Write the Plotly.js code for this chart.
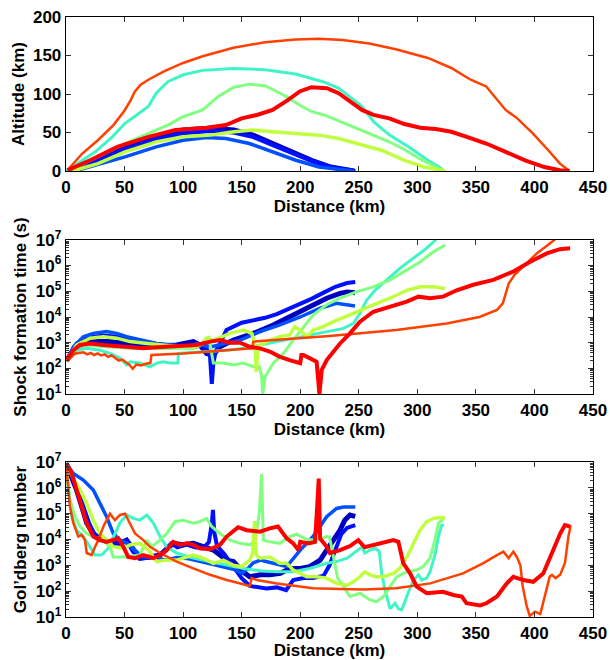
<!DOCTYPE html>
<html>
<head>
<meta charset="utf-8">
<script src="https://cdn.plot.ly/plotly-3.0.1.min.js"></script>
<style>html,body{margin:0;padding:0;background:#fff;}#chart{width:610px;height:660px;}</style>
</head>
<body>
<div id="chart"></div>
<script>
// ---------- tick labels ----------
const distanceTicks = [0, 50, 100, 150, 200, 250, 300, 350, 400, 450];
const altitudeTicks = [0, 50, 100, 150, 200];
const logTicks = [1e1, 1e2, 1e3, 1e4, 1e5, 1e6, 1e7];
const logTickText = ['10<sup>1</sup>', '10<sup>2</sup>', '10<sup>3</sup>', '10<sup>4</sup>', '10<sup>5</sup>', '10<sup>6</sup>', '10<sup>7</sup>'];
const logMinorTicks = [2e1,3e1,4e1,5e1,6e1,7e1,8e1,9e1,2e2,3e2,4e2,5e2,6e2,7e2,8e2,9e2,2e3,3e3,4e3,5e3,6e3,7e3,8e3,9e3,2e4,3e4,4e4,5e4,6e4,7e4,8e4,9e4,2e5,3e5,4e5,5e5,6e5,7e5,8e5,9e5,2e6,3e6,4e6,5e6,6e6,7e6,8e6,9e6];

// ---------- Altitude (km) vs distance (km) ----------
const alt_navy_x = [1.3, 23.9, 50.4, 77, 100, 123.4, 143.3, 159.8, 176.4, 193, 209.6, 226, 246];
const alt_navy_y = [0, 14, 31.4, 44.4, 53.2, 55.5, 53.2, 46.6, 35.7, 24.8, 14, 5.2, 0];
const alt_blue_x = [1.5, 24, 50, 77, 100, 123, 143, 160, 176, 193, 210, 226, 247];
const alt_blue_y = [0, 12, 28, 41, 49, 52, 50, 44, 34, 23, 13, 5, 0];
const alt_lblue_x = [7.3, 30.5, 50.4, 77, 100, 120, 136.6, 156.5, 176.4, 196.3, 216, 246];
const alt_lblue_y = [0, 9.6, 18.3, 31.4, 40, 43.6, 42.3, 35.7, 24.8, 14, 5.2, 0];
const alt_turq_x = [0, 10, 25, 40, 50.4, 60.4, 70.3, 77, 86.9, 100, 116.7, 143, 170, 196, 219.5, 232.8, 242.7, 252.7, 262.6, 276, 292.5, 309, 318, 323];
const alt_turq_y = [0, 10, 25, 45, 61.9, 72.8, 83.7, 101, 116, 125, 130.7, 133, 131.6, 126, 116, 107.6, 96, 84, 64, 47, 31.4, 14, 6, 0];
const alt_lgreen_x = [2.3, 27.2, 50.4, 70.3, 86.9, 100, 116.7, 130, 143.3, 156.5, 169.8, 183, 190, 200, 210, 222, 236, 249, 262, 276, 289, 302, 316, 323];
const alt_lgreen_y = [0, 18.3, 35.7, 48.8, 59.7, 70.6, 79.3, 96.7, 108.9, 112.8, 110.7, 101, 95, 85, 77, 72, 63, 55, 47, 38, 28, 16, 5, 0];
const alt_ygreen_x = [5.6, 27.2, 50.4, 77, 100, 123.4, 143.3, 159.8, 176.4, 196.3, 216, 232.8, 249.4, 269.3, 289, 305.7, 324];
const alt_ygreen_y = [0, 9.6, 24.8, 37.9, 44.4, 46.6, 51, 53.2, 51, 48.8, 46.6, 42.3, 35.7, 27, 13.9, 5.2, 0];
const alt_orange_x = [2.3, 13.9, 27.2, 40.5, 49.7, 55.4, 58.7, 63.7, 70.3, 83.6, 100, 116.7, 143, 170, 196, 216, 236, 259, 282.5, 309, 329, 345.5, 358.8, 368.7, 375.4, 385.3, 398.6, 411.8, 421.8, 430];
const alt_orange_y = [3, 22.7, 40, 59.7, 78, 92.4, 103, 112, 118.5, 129.4, 140.3, 149, 160, 167.3, 170.8, 171.7, 170, 165.6, 157.7, 146.8, 133.8, 118.5, 109.8, 92.4, 79.3, 68.4, 48.8, 27, 9.6, 0];
const alt_red_x = [1.3, 20.6, 43.8, 70.3, 93.5, 120, 136.6, 150, 163, 176.4, 189.7, 199.6, 209.6, 222.8, 232.8, 242.7, 252.7, 262.6, 276, 289, 302.4, 315.7, 329, 342.2, 358.8, 375.4, 392, 408.5, 421.8, 430];
const alt_red_y = [0.9, 14, 31.4, 44.4, 53.2, 56.2, 59.7, 68.4, 72.8, 79.3, 92.4, 103.3, 108.9, 107.6, 101, 90.2, 79.3, 72.8, 68.4, 61, 56.2, 54.5, 51, 44.4, 35.7, 24.8, 13.9, 5.2, 0.9, 0];

// ---------- Shock formation time (s) vs distance (km) ----------
const shk_navy_x = [0.6, 9, 23.3, 37.6, 51.8, 66, 80.3, 94.5, 108.7, 114.4, 120, 125.8, 131.5, 143, 160, 177, 194, 211, 222.6, 234, 240, 246.8];
const shk_navy_y = [2.1e2, 6.9e2, 1.1e3, 1.1e3, 9.3e2, 8.1e2, 7.4e2, 8.1e2, 1.1e3, 8.1e2, 3.8e2, 3.3e2, 6.9e2, 1.26e3, 2.3e3, 4.9e3, 1.2e4, 3.0e4, 5.4e4, 8.3e4, 9.5e4, 8.9e4];
const shk_blue_x = [0.6, 9, 20.5, 32, 43.3, 57.5, 74.6, 91.6, 108.7, 117, 121, 123, 124.5, 125.8, 128, 131.5, 137, 150, 160, 170, 180, 190, 200, 210, 220, 230, 240, 247];
const shk_blue_y = [2.1e2, 9.3e2, 1.6e3, 1.9e3, 1.7e3, 1.26e3, 9.3e2, 7.4e2, 6.6e2, 8.1e2, 5.0e2, 2.8e2, 25, 1.6e2, 5.0e2, 9.3e2, 3.1e3, 6.0e3, 7.6e3, 9.3e3, 1.3e4, 2.0e4, 3.2e4, 5.2e4, 8.9e4, 1.5e5, 2.1e5, 2.3e5];
const shk_lblue_x = [0.6, 6.3, 14.8, 23.3, 34.7, 43.3, 51.8, 63, 77.4, 91.6, 103, 111.6, 117, 125, 135, 148.6, 165.7, 182.7, 200, 217, 231, 240, 246.8];
const shk_lblue_y = [2.1e2, 6.9e2, 1.7e3, 2.3e3, 2.7e3, 2.3e3, 1.7e3, 1.26e3, 9.3e2, 8.1e2, 6.9e2, 9.3e2, 7.9e2, 7.1e2, 8.9e2, 1.26e3, 2.7e3, 4.9e3, 1.0e4, 2.2e4, 3.4e4, 3.0e4, 2.7e4];
const shk_turq_x = [0.6, 9, 17.7, 29, 37.6, 46, 51.8, 54.7, 63, 71.7, 77.4, 83, 88.8, 95.5, 96, 108.7, 123, 137, 151.4, 165.7, 180, 194, 208, 222.6, 237, 245.4, 251, 256.8, 263.9, 273.9, 285, 296.6, 308, 316];
const shk_turq_y = [2.1e2, 5.1e2, 6.0e2, 5.1e2, 3.8e2, 2.5e2, 1.35e2, 1.8e2, 1.6e2, 1.15e2, 1.6e2, 1.8e2, 1.6e2, 1.6e2, 3.8e2, 4.1e2, 4.5e2, 5.1e2, 6.0e2, 8.1e2, 1.1e3, 1.5e3, 2.0e3, 2.7e3, 3.6e3, 5.6e3, 1.4e4, 4.6e4, 1.1e5, 2.8e5, 7.9e5, 1.95e6, 4.8e6, 1.05e7];
const shk_lgreen_x = [0.6, 9, 20.5, 32, 43.3, 54.7, 69, 80.3, 94.5, 108.7, 114.4, 119, 122, 125.8, 134.3, 143, 151.4, 160, 165, 167, 168, 170, 177, 185.6, 194, 202.7, 211, 222.6, 234, 248.5, 262.4, 276.7, 291, 302.3, 313.7, 323.7];
const shk_lgreen_y = [2.1e2, 6.9e2, 8.1e2, 6.9e2, 6.6e2, 6.0e2, 6.0e2, 5.8e2, 6.0e2, 6.0e2, 8.1e2, 1.4e3, 1.6e3, 1.6e2, 1.6e2, 1.35e2, 1.6e2, 1.15e2, 1.2e2, 50, 10, 47, 1.6e2, 3.8e2, 1.26e3, 4.2e3, 1.2e4, 3.0e4, 5.4e4, 9.8e4, 1.5e5, 2.8e5, 6.8e5, 1.4e6, 3.5e6, 6.3e6];
const shk_ygreen_x = [0.6, 9, 20.5, 32, 43.3, 54.7, 69, 83, 97.3, 111.6, 118, 120, 125.8, 132, 140, 151.4, 158.6, 161.4, 162.5, 163.5, 165.7, 174, 182.7, 191, 195.4, 200, 205.5, 211, 219.7, 228.3, 237, 248.5, 262.4, 276.7, 291, 302.3, 313.7, 323.7];
const shk_ygreen_y = [2.1e2, 8.1e2, 1.5e3, 1.7e3, 1.5e3, 1.1e3, 9.3e2, 8.1e2, 6.9e2, 6.9e2, 1.0e3, 1.5e3, 1.26e3, 1.6e3, 2.3e3, 3.1e3, 2.3e3, 8.1e2, 71, 4.0e2, 8.1e2, 1.26e3, 1.7e3, 2.0e3, 4.2e3, 3.1e3, 1.7e3, 3.1e3, 4.2e3, 6.6e3, 1.0e4, 1.6e4, 3.0e4, 5.4e4, 1.1e5, 1.5e5, 1.5e5, 1.3e5];
const shk_orange_x = [1, 4, 8, 12, 15, 18, 21, 24, 27, 30, 33, 36, 39, 42, 45, 48, 51, 54, 57, 60, 64, 68, 72, 73, 100, 130, 159, 160, 200, 225, 282, 325, 353, 368, 373, 378, 383, 390, 402, 415, 418];
const shk_orange_y = [1.8e2, 2.6e2, 3.8e2, 4.0e2, 4.2e2, 3.5e2, 4.0e2, 3.3e2, 3.8e2, 3.2e2, 3.5e2, 2.8e2, 3.2e2, 2.5e2, 2.0e2, 2.2e2, 1.7e2, 1.4e2, 95, 1.4e2, 1.3e2, 1.5e2, 1.6e2, 3.3e2, 3.8e2, 4.7e2, 6.0e2, 1.1e3, 1.5e3, 1.8e3, 3.1e3, 5.6e3, 1.0e4, 1.9e4, 3.4e4, 2.0e5, 4.4e5, 9.1e5, 3.0e6, 8.5e6, 1.1e7];
const shk_red_x = [0.6, 6.3, 12, 20.5, 31.9, 43.3, 54.7, 66, 77.4, 88.8, 100, 111.6, 123, 131.5, 140, 148.6, 157, 165.7, 174, 182.7, 191, 200, 201, 202.7, 208, 214, 216.4, 218.4, 222.6, 228.3, 234, 242.5, 251, 262.4, 276.7, 291, 301, 310.8, 322, 333.6, 347.8, 364.9, 382, 396, 410.5, 421.8, 430.4];
const shk_red_y = [2.1e2, 5.1e2, 8.1e2, 9.3e2, 8.1e2, 7.4e2, 6.6e2, 6.0e2, 6.6e2, 6.9e2, 7.4e2, 8.1e2, 1.1e3, 1.26e3, 1.0e3, 1.0e3, 6.9e2, 6.0e2, 4.5e2, 2.8e2, 2.1e2, 1.6e2, 3.3e2, 3.3e2, 2.5e2, 1.8e2, 10, 87, 2.1e2, 4.5e2, 9.3e2, 2.3e3, 6.6e3, 1.6e4, 2.5e4, 4.0e4, 6.2e4, 5.4e4, 6.2e4, 1.1e5, 1.8e5, 2.8e5, 5.9e5, 1.4e6, 3.0e6, 4.4e6, 4.8e6];

// ---------- Gol'dberg number vs distance (km) ----------
const gol_navy_x = [0, 5, 9, 13.4, 17.7, 23.3, 29, 37.6, 46, 51.8, 57.5, 63, 71.7, 80.3, 91.6, 100, 108.7, 117, 125.8, 131.5, 137, 143, 151, 157, 166, 174, 183, 191, 200, 208, 217, 222.6, 228, 234, 238, 242.5, 247];
const gol_navy_y = [8.9e6, 2.7e6, 8.3e5, 1.9e5, 4.3e4, 1.7e4, 1.1e4, 7.1e3, 7.1e3, 9.5e3, 3.9e3, 1.9e3, 2.1e3, 2.5e3, 7.1e3, 6.3e3, 7.1e3, 5.2e3, 3.9e3, 2.5e3, 1.6e3, 1.4e3, 5.6e2, 3.6e2, 4.3e2, 4.3e2, 4.9e2, 7.6e2, 7.6e2, 8.9e2, 1.6e3, 3.9e3, 9.5e3, 2.3e4, 5.6e4, 8.9e4, 7.9e4];
const gol_blue_x = [0, 5, 10, 15, 20, 25, 30, 37, 45, 52, 57, 63, 72, 80, 90, 95, 103, 110, 117, 122, 124.5, 125.5, 126.5, 129, 135, 140, 145, 150, 157, 163, 171, 180, 188, 194, 203, 211, 220, 225, 231, 235, 240, 247];
const gol_blue_y = [8.9e6, 3.2e6, 7.9e5, 1.6e5, 4.0e4, 1.4e4, 1.0e4, 7.1e3, 7.9e3, 8.9e3, 3.5e3, 1.8e3, 2.0e3, 2.5e3, 7.1e3, 5.0e3, 6.3e3, 5.0e3, 4.5e3, 7.9e3, 4.0e4, 1.4e5, 2.0e4, 5.6e3, 2.8e3, 1.4e3, 6.3e2, 3.2e2, 1.6e2, 1.4e2, 1.26e2, 1.4e2, 1.1e2, 2.7e2, 3.2e2, 3.2e2, 4.0e2, 1.0e3, 5.0e3, 1.6e4, 2.8e4, 3.6e4];
const gol_lblue_x = [0, 6.3, 14.8, 23.3, 29, 34.7, 40.4, 46, 52, 58, 65, 75, 85, 95, 105, 115, 125, 135, 143, 150, 154, 160, 166, 177, 188.5, 200, 211, 222.6, 231, 237, 247];
const gol_lblue_y = [8.9e6, 3.6e6, 2.0e6, 8.3e5, 2.5e5, 7.6e4, 1.7e4, 9.5e3, 7.1e3, 4.0e3, 2.2e3, 2.0e3, 1.6e3, 2.0e3, 1.8e3, 1.4e3, 1.1e3, 8.9e2, 7.1e2, 5.0e2, 6.6e2, 1.26e3, 1.6e3, 1.2e3, 8.9e2, 3.9e3, 1.3e4, 7.6e4, 1.6e5, 1.8e5, 1.8e5];
const gol_turq_x = [0, 2, 5, 9, 14.8, 20.5, 24.8, 30.5, 36, 41.8, 46, 51.8, 57.5, 63, 69, 74.6, 80.3, 86, 94.5, 108.7, 123, 137, 151.4, 165.7, 180, 194, 208, 222.6, 231, 240, 248, 252.5, 255.3, 259.6, 264, 267.5, 269.6, 272.4, 276.7, 281, 283.8, 286.7, 291, 296.6, 301, 303.7, 308, 310.8, 315, 318, 320.8, 322.8];
const gol_turq_y = [7.1e6, 8.3e5, 7.6e4, 2.3e4, 1.3e4, 5.2e3, 2.5e3, 2.5e3, 4.6e3, 1.7e4, 4.3e4, 8.9e4, 6.6e4, 5.6e4, 8.9e4, 4.3e4, 1.3e4, 5.2e3, 3.0e3, 1.9e3, 1.4e3, 1.0e3, 7.6e2, 6.2e2, 5.6e2, 5.6e2, 7.6e2, 1.2e3, 1.4e3, 1.9e3, 3.4e3, 5.0e3, 3.0e3, 3.9e3, 4.6e3, 3.4e3, 4.9e2, 1.1e2, 21, 34, 21, 19, 62, 2.7e2, 4.3e2, 2.7e2, 3.2e2, 5.6e2, 2.5e3, 1.3e4, 3.6e4, 3.6e4];
const gol_lgreen_x = [0, 3.4, 7.7, 12, 17.7, 23.3, 32, 37.6, 40.4, 51.8, 63, 69, 73, 80.3, 86, 93, 100, 108.7, 114.4, 120, 124.4, 131.5, 140, 148.6, 157, 161.4, 165, 167, 168.5, 174, 182.7, 191, 197, 205.5, 214, 222.6, 225, 228, 232, 237, 242.5, 251, 259.6, 265, 271, 276.7, 282.4, 291, 299.5, 305, 310.8, 315, 318, 320.8, 322];
const gol_lgreen_y = [8.9e6, 3.4e5, 7.6e4, 3.2e4, 1.7e4, 1.3e4, 9.5e3, 5.2e3, 2.1e3, 2.1e3, 2.5e3, 9.5e3, 5.2e3, 9.5e3, 1.7e4, 4.9e4, 5.6e4, 4.3e4, 4.9e4, 6.6e4, 3.2e4, 1.7e4, 9.5e3, 7.1e3, 6.2e3, 9.5e3, 1.0e5, 3.5e6, 9.5e3, 8.1e3, 7.1e3, 1.3e4, 1.6e4, 1.0e4, 9.5e3, 1.3e4, 1.26e4, 2.5e3, 3.2e2, 1.5e2, 62, 83, 46, 39, 62, 1.5e2, 3.6e2, 5.6e2, 6.6e2, 8.9e2, 1.9e3, 9.5e3, 4.3e4, 5.6e4, 5.6e4];
const gol_ygreen_x = [0, 6.3, 12, 17.7, 23.3, 29, 34.7, 40.4, 49, 54.7, 63, 70.3, 77.4, 86, 94.5, 103, 108.7, 117, 125.8, 134.3, 143, 150, 157, 159.4, 161, 162.5, 165.7, 174, 182.7, 188.5, 194, 200, 205.5, 214, 222.6, 231, 240, 245.3, 251, 255, 259.6, 265, 271, 279.5, 285, 291, 296.6, 302.3, 308, 313.7, 319.4, 323.7];
const gol_ygreen_y = [8.9e6, 2.3e6, 8.3e5, 2.5e5, 5.6e4, 1.7e4, 9.5e3, 5.2e3, 4.6e3, 6.2e3, 7.1e3, 3.9e3, 1.4e3, 1.6e3, 1.6e3, 2.1e3, 2.5e3, 1.9e3, 1.2e3, 1.6e3, 1.0e3, 8.9e2, 1.6e3, 3.0e3, 5.2e4, 2.5e3, 1.9e3, 2.1e3, 1.2e3, 1.2e3, 6.6e2, 4.9e2, 3.6e2, 3.6e2, 3.2e2, 2.0e2, 1.7e2, 2.3e2, 3.6e2, 5.6e2, 4.3e2, 3.6e2, 3.6e2, 4.9e2, 7.6e2, 2.1e3, 7.1e3, 2.3e4, 4.9e4, 6.6e4, 7.1e4, 6.6e4];
const gol_orange_x = [0, 3.4, 6.3, 10.5, 13.4, 16.2, 17.7, 21.9, 24.8, 27.6, 31.9, 37.6, 41.8, 46.1, 50.4, 54.7, 58.9, 66, 71.7, 80.3, 94.5, 108.7, 123, 137.2, 157, 158.6, 162.9, 180, 194, 211, 234, 254, 282, 311, 339, 356, 368, 373.5, 378, 382, 385, 388, 390, 393.5, 396, 400.5, 405, 409, 413, 415, 418, 422, 426, 429, 431];
const gol_orange_y = [8.9e6, 1.9e5, 4.3e4, 1.3e4, 1.5e4, 9.5e3, 3.0e3, 2.5e3, 5.2e3, 9.5e3, 3.2e4, 1.0e5, 5.6e4, 8.9e4, 1.0e5, 4.3e4, 1.7e4, 9.5e3, 5.2e3, 3.0e3, 1.4e3, 7.6e2, 4.3e2, 2.7e2, 1.6e2, 3.2e2, 2.7e2, 2.0e2, 1.6e2, 1.3e2, 1.2e2, 1.15e2, 1.3e2, 2.0e2, 4.9e2, 1.2e3, 2.5e3, 3.4e3, 1.9e3, 3.4e3, 2.1e3, 1.0e3, 1.5e2, 25, 11, 16, 13, 62, 3.6e2, 4.3e2, 3.2e2, 4.3e2, 1.2e3, 1.3e4, 3.6e4];
const gol_red_x = [0.6, 4.9, 9.1, 13.4, 17.7, 23.3, 29, 34.7, 41.8, 44.7, 49, 53.2, 59, 66, 74.6, 80.3, 86, 91.6, 97.4, 103, 108.7, 114.4, 123, 131.5, 137.2, 147, 154.3, 165.7, 174, 181, 188.5, 194, 198.4, 200, 207, 212.6, 214.5, 215.8, 217, 222.6, 225.4, 234, 242.5, 249.6, 255, 262.5, 271, 279.5, 283.8, 288, 293.8, 299.5, 308, 322, 330.7, 338, 342, 353.5, 359, 368, 376.4, 382, 390.5, 399, 407.6, 416, 422, 426, 430.4];
const gol_red_y = [8.9e6, 3.6e6, 8.3e5, 1.9e5, 4.3e4, 1.3e4, 9.5e3, 8.1e3, 9.5e3, 1.1e4, 5.2e3, 2.1e3, 1.9e3, 2.5e3, 1.9e3, 2.5e3, 3.9e3, 8.1e3, 6.2e3, 7.1e3, 6.2e3, 4.6e3, 4.2e3, 6.2e3, 1.3e4, 3.0e4, 2.3e4, 2.0e4, 2.7e4, 3.2e4, 1.1e4, 7.1e3, 3.9e3, 8.1e3, 7.1e3, 8.1e3, 1.9e5, 2.3e6, 1.1e4, 5.2e3, 3.0e3, 3.9e3, 5.6e3, 9.5e3, 5.0e3, 6.2e3, 8.1e3, 9.5e3, 8.1e3, 1.2e3, 4.9e2, 1.5e2, 83, 95, 71, 62, 34, 28, 34, 62, 2.0e2, 3.6e2, 2.7e2, 2.3e2, 4.9e2, 3.9e3, 1.7e4, 3.6e4, 3.2e4];

// ---------- styling (not data) ----------
const style = {
  navy:   {color: '#0000bf', width: 5},
  blue:   {color: '#0010ff', width: 4},
  lblue:  {color: '#0050ff', width: 3.5},
  turq:   {color: '#40f5c5', width: 3},
  lgreen: {color: '#80ff80', width: 3},
  ygreen: {color: '#c0ff40', width: 3.5},
  orange: {color: '#ff4000', width: 2.5},
  red:    {color: '#ff0000', width: 4}
};

const panels = [
  {axis: ['x', 'y'], data: {
    navy: [alt_navy_x, alt_navy_y], blue: [alt_blue_x, alt_blue_y], lblue: [alt_lblue_x, alt_lblue_y],
    turq: [alt_turq_x, alt_turq_y], lgreen: [alt_lgreen_x, alt_lgreen_y], ygreen: [alt_ygreen_x, alt_ygreen_y],
    orange: [alt_orange_x, alt_orange_y], red: [alt_red_x, alt_red_y]}},
  {axis: ['x2', 'y2'], data: {
    navy: [shk_navy_x, shk_navy_y], blue: [shk_blue_x, shk_blue_y], lblue: [shk_lblue_x, shk_lblue_y],
    turq: [shk_turq_x, shk_turq_y], lgreen: [shk_lgreen_x, shk_lgreen_y], ygreen: [shk_ygreen_x, shk_ygreen_y],
    orange: [shk_orange_x, shk_orange_y], red: [shk_red_x, shk_red_y]}},
  {axis: ['x3', 'y3'], data: {
    navy: [gol_navy_x, gol_navy_y], blue: [gol_blue_x, gol_blue_y], lblue: [gol_lblue_x, gol_lblue_y],
    turq: [gol_turq_x, gol_turq_y], lgreen: [gol_lgreen_x, gol_lgreen_y], ygreen: [gol_ygreen_x, gol_ygreen_y],
    orange: [gol_orange_x, gol_orange_y], red: [gol_red_x, gol_red_y]}}
];

const order = ['navy', 'blue', 'lblue', 'turq', 'lgreen', 'ygreen', 'orange', 'red'];
const traces = [];
panels.forEach(p => {
  order.forEach(k => {
    traces.push({
      type: 'scatter', mode: 'lines',
      x: p.data[k][0], y: p.data[k][1],
      xaxis: p.axis[0], yaxis: p.axis[1],
      line: {color: style[k].color, width: style[k].width, shape: 'linear'},
      hoverinfo: 'skip', showlegend: false
    });
  });
});

const FONT = 'Liberation Sans, Arial, Helvetica, sans-serif';
const tickFont = {family: FONT, size: 17, color: '#000', weight: 'bold'};
const titleFont = {family: FONT, size: 17, color: '#000', weight: 'bold'};

function xAxis(anchor) {
  return {
    anchor: anchor, domain: [0, 1], range: [0, 450],
    tickmode: 'array', tickvals: distanceTicks,
    ticks: 'inside', ticklen: 5, tickwidth: 1, tickcolor: '#333',
    showline: true, linecolor: '#000', linewidth: 1.3, mirror: 'ticks',
    showgrid: false, zeroline: false, tickfont: tickFont,
    title: {text: 'Distance (km)', font: titleFont, standoff: 1}
  };
}
function logAxis(anchor, domain, title) {
  return {
    anchor: anchor, domain: domain, type: 'log', range: [1, 7],
    tickmode: 'array', tickvals: logTicks, ticktext: logTickText,
    ticks: 'inside', ticklen: 5, tickwidth: 1, tickcolor: '#333',
    minor: {tickmode: 'array', tickvals: logMinorTicks, ticks: 'inside', ticklen: 3, tickwidth: 1, tickcolor: '#333', showgrid: false},
    showline: true, linecolor: '#000', linewidth: 1.3, mirror: 'ticks',
    showgrid: false, zeroline: false, tickfont: tickFont,
    title: {text: title, font: titleFont, standoff: 4}
  };
}

const layout = {
  width: 610, height: 660,
  margin: {l: 66, r: 17, t: 17, b: 43},
  paper_bgcolor: '#fff', plot_bgcolor: '#fff',
  font: {family: FONT, color: '#000'},
  showlegend: false,
  xaxis: xAxis('y'),
  yaxis: {
    anchor: 'x', domain: [0.7433, 1], range: [0, 200],
    tickmode: 'array', tickvals: altitudeTicks,
    ticks: 'inside', ticklen: 5, tickwidth: 1, tickcolor: '#333',
    showline: true, linecolor: '#000', linewidth: 1.3, mirror: 'ticks',
    showgrid: false, zeroline: false, tickfont: tickFont,
    title: {text: 'Altitude (km)', font: titleFont, standoff: 4}
  },
  xaxis2: xAxis('y2'),
  yaxis2: logAxis('x2', [0.3717, 0.6283], 'Shock formation time (s)'),
  xaxis3: xAxis('y3'),
  yaxis3: logAxis('x3', [0, 0.2583], 'Gol\u2019dberg number')
};

Plotly.newPlot('chart', traces, layout, {staticPlot: true, displayModeBar: false});
</script>
</body>
</html>
